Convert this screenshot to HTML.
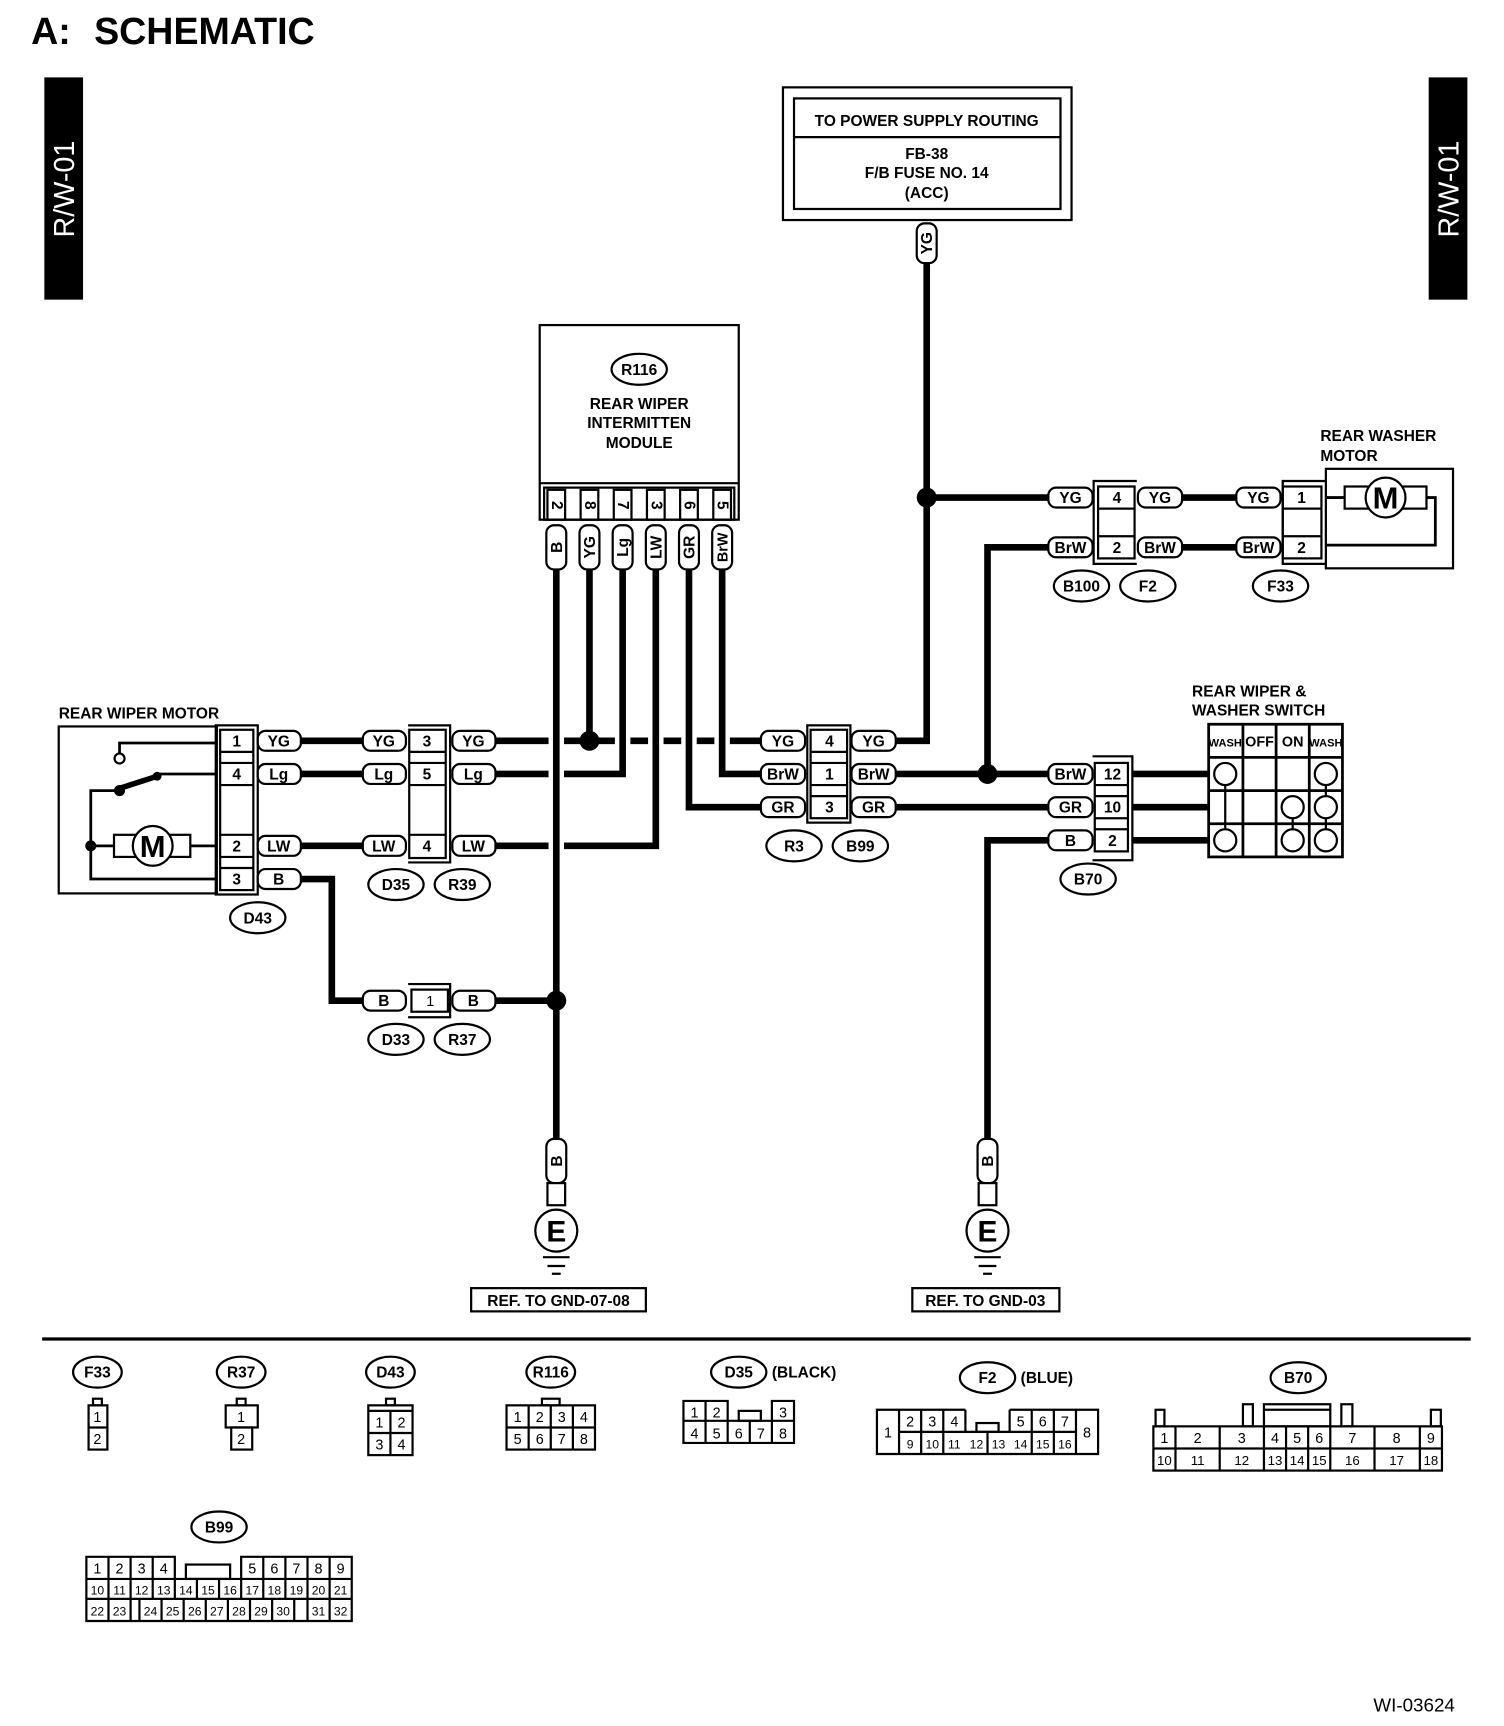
<!DOCTYPE html>
<html><head><meta charset="utf-8"><style>
html,body{margin:0;padding:0;background:#fff}
svg{display:block}
.p{fill:#fff;stroke:#000;stroke-width:2}
.b{fill:none;stroke:#000;stroke-width:2}
.w{fill:none;stroke:#000;stroke-width:6}
.tn{fill:none;stroke:#000;stroke-width:2.5}
text{font-family:"Liberation Sans",sans-serif;font-weight:bold;font-size:14px;text-anchor:middle}
.s{font-size:13px;font-weight:normal}
.l{text-anchor:start}
</style></head><body>
<svg width="1504" height="1726" viewBox="0 0 1360 1561" xmlns="http://www.w3.org/2000/svg">
<text x="28" y="40" class="l" style="font-size:34px">A:</text>
<text x="85" y="40" class="l" style="font-size:34px">SCHEMATIC</text>
<rect x="40" y="70" width="35" height="201" fill="#000"/>
<text transform="translate(67,171) rotate(-90)" style="font-size:26px;fill:#fff;font-weight:normal">R/W-01</text>
<rect x="1292" y="70" width="35" height="201" fill="#000"/>
<text transform="translate(1319,171) rotate(-90)" style="font-size:26px;fill:#fff;font-weight:normal">R/W-01</text>

<!-- power box -->
<rect x="708" y="79" width="261" height="120" class="b"/>
<rect x="718" y="89" width="241" height="100" class="b"/>
<line x1="718" y1="124" x2="959" y2="124" class="b"/>
<text x="838" y="114">TO POWER SUPPLY ROUTING</text>
<text x="838" y="144">FB-38</text>
<text x="838" y="161">F/B FUSE NO. 14</text>
<text x="838" y="179">(ACC)</text>
<rect x="829" y="202" width="18" height="36" rx="7" class="p"/>
<text transform="translate(843,220) rotate(-90)">YG</text>
<polyline points="838,238 838,670 810,670" class="w"/>
<circle cx="838" cy="450" r="9"/>
<line x1="838" y1="450" x2="948" y2="450" class="w"/>

<!-- R116 -->
<rect x="488" y="294" width="180" height="176" class="b"/>
<line x1="488" y1="437" x2="668" y2="437" class="b"/>
<ellipse cx="578" cy="334" rx="25" ry="14" class="p"/>
<text x="578" y="339">R116</text>
<text x="578" y="370">REAR WIPER</text>
<text x="578" y="387">INTERMITTEN</text>
<text x="578" y="405">MODULE</text>
<rect x="492" y="441" width="172" height="29" class="b"/>
<g>
<rect x="495" y="443" width="16" height="27" class="b"/><text transform="translate(499,457) rotate(90)">2</text>
<rect x="525" y="443" width="16" height="27" class="b"/><text transform="translate(529,457) rotate(90)">8</text>
<rect x="555" y="443" width="16" height="27" class="b"/><text transform="translate(559,457) rotate(90)">7</text>
<rect x="585" y="443" width="16" height="27" class="b"/><text transform="translate(589,457) rotate(90)">3</text>
<rect x="615" y="443" width="16" height="27" class="b"/><text transform="translate(619,457) rotate(90)">6</text>
<rect x="645" y="443" width="16" height="27" class="b"/><text transform="translate(649,457) rotate(90)">5</text>
</g>
<g>
<rect x="494" y="475" width="18" height="40" rx="7" class="p"/><text transform="translate(508,495) rotate(-90)">B</text>
<rect x="524" y="475" width="18" height="40" rx="7" class="p"/><text transform="translate(538,495) rotate(-90)">YG</text>
<rect x="554" y="475" width="18" height="40" rx="7" class="p"/><text transform="translate(568,495) rotate(-90)">Lg</text>
<rect x="584" y="475" width="18" height="40" rx="7" class="p"/><text transform="translate(598,495) rotate(-90)">LW</text>
<rect x="614" y="475" width="18" height="40" rx="7" class="p"/><text transform="translate(628,495) rotate(-90)">GR</text>
<rect x="644" y="475" width="18" height="40" rx="7" class="p"/><text transform="translate(658,495) rotate(-90)" style="font-size:13px">BrW</text>
</g>
<line x1="503" y1="515" x2="503" y2="1030" class="w"/>
<line x1="533" y1="515" x2="533" y2="670" class="w"/>
<polyline points="563,515 563,700 510,700" class="w"/>
<polyline points="593,515 593,765 510,765" class="w"/>
<polyline points="623,515 623,730 688,730" class="w"/>
<polyline points="653,515 653,700 688,700" class="w"/>
<circle cx="533" cy="670" r="9"/>
<line x1="448" y1="670" x2="496" y2="670" class="w"/>
<line x1="510" y1="670" x2="556" y2="670" class="w"/>
<line x1="570" y1="670" x2="586" y2="670" class="w"/>
<line x1="600" y1="670" x2="616" y2="670" class="w"/>
<line x1="630" y1="670" x2="646" y2="670" class="w"/>
<line x1="660" y1="670" x2="688" y2="670" class="w"/>
<line x1="448" y1="700" x2="496" y2="700" class="w"/>
<line x1="448" y1="765" x2="496" y2="765" class="w"/>

<!-- rear wiper motor -->
<text x="53" y="650" class="l">REAR WIPER MOTOR</text>
<rect x="53" y="657" width="143" height="151" class="b"/>
<rect x="195" y="656" width="38" height="153" class="b"/>
<rect x="199" y="660" width="30" height="145" class="b"/>
<line x1="199" y1="680" x2="229" y2="680" class="b"/>
<line x1="199" y1="690" x2="229" y2="690" class="b"/>
<line x1="199" y1="710" x2="229" y2="710" class="b"/>
<line x1="199" y1="755" x2="229" y2="755" class="b"/>
<line x1="199" y1="775" x2="229" y2="775" class="b"/>
<line x1="199" y1="785" x2="229" y2="785" class="b"/>
<text x="214" y="675">1</text><text x="214" y="705">4</text><text x="214" y="770">2</text><text x="214" y="800">3</text>
<polyline points="108,682 108,672 196,672" class="tn"/>
<circle cx="108" cy="686" r="4.5" class="p"/>
<line x1="108" y1="713" x2="142" y2="702" stroke="#000" stroke-width="5"/>
<circle cx="142" cy="702" r="4"/>
<line x1="142" y1="700" x2="196" y2="700" class="tn"/>
<circle cx="108" cy="715" r="5"/>
<polyline points="108,715 82,715 82,795 196,795" class="tn"/>
<circle cx="82" cy="765" r="5"/>
<line x1="82" y1="765" x2="103" y2="765" class="tn"/>
<rect x="103" y="755" width="69" height="20" class="p"/>
<circle cx="138" cy="765" r="18" class="p"/>
<text x="138" y="775" style="font-size:28px">M</text>
<line x1="172" y1="765" x2="196" y2="765" class="tn"/>
<g>
<rect x="233" y="661" width="39" height="18" rx="7" class="p"/><text x="252" y="675">YG</text>
<rect x="233" y="691" width="39" height="18" rx="7" class="p"/><text x="252" y="705">Lg</text>
<rect x="233" y="756" width="39" height="18" rx="7" class="p"/><text x="252" y="770">LW</text>
<rect x="233" y="786" width="39" height="18" rx="7" class="p"/><text x="252" y="800">B</text>
</g>
<line x1="272" y1="670" x2="328" y2="670" class="w"/>
<line x1="272" y1="700" x2="328" y2="700" class="w"/>
<line x1="272" y1="765" x2="328" y2="765" class="w"/>
<polyline points="272,795 300,795 300,905 328,905" class="w"/>
<ellipse cx="233" cy="830" rx="25" ry="14" class="p"/><text x="233" y="835">D43</text>
<g>
<rect x="328" y="661" width="39" height="18" rx="7" class="p"/><text x="347" y="675">YG</text>
<rect x="328" y="691" width="39" height="18" rx="7" class="p"/><text x="347" y="705">Lg</text>
<rect x="328" y="756" width="39" height="18" rx="7" class="p"/><text x="347" y="770">LW</text>
<rect x="409" y="661" width="39" height="18" rx="7" class="p"/><text x="428" y="675">YG</text>
<rect x="409" y="691" width="39" height="18" rx="7" class="p"/><text x="428" y="705">Lg</text>
<rect x="409" y="756" width="39" height="18" rx="7" class="p"/><text x="428" y="770">LW</text>
</g>
<polyline points="369,656 407,656 407,780 369,780" class="b"/>
<rect x="370" y="660" width="33" height="116" class="b"/>
<line x1="370" y1="680" x2="403" y2="680" class="b"/>
<line x1="370" y1="690" x2="403" y2="690" class="b"/>
<line x1="370" y1="710" x2="403" y2="710" class="b"/>
<line x1="370" y1="755" x2="403" y2="755" class="b"/>
<text x="386" y="675">3</text><text x="386" y="705">5</text><text x="386" y="770">4</text>
<ellipse cx="358" cy="800" rx="25" ry="14" class="p"/><text x="358" y="805">D35</text>
<ellipse cx="418" cy="800" rx="25" ry="14" class="p"/><text x="418" y="805">R39</text>
<rect x="328" y="896" width="39" height="18" rx="7" class="p"/><text x="347" y="910">B</text>
<rect x="409" y="896" width="39" height="18" rx="7" class="p"/><text x="428" y="910">B</text>
<polyline points="369,890 407,890 407,920 369,920" class="b"/>
<rect x="372" y="895" width="33" height="20" class="b"/>
<text x="389" y="910" class="s">1</text>
<line x1="448" y1="905" x2="503" y2="905" class="w"/>
<circle cx="503" cy="905" r="9"/>
<ellipse cx="358" cy="940" rx="25" ry="14" class="p"/><text x="358" y="945">D33</text>
<ellipse cx="418" cy="940" rx="25" ry="14" class="p"/><text x="418" y="945">R37</text>

<!-- R3/B99 -->
<g>
<rect x="688" y="661" width="40" height="18" rx="7" class="p"/><text x="708" y="675">YG</text>
<rect x="688" y="691" width="40" height="18" rx="7" class="p"/><text x="708" y="705">BrW</text>
<rect x="688" y="721" width="40" height="18" rx="7" class="p"/><text x="708" y="735">GR</text>
<rect x="770" y="661" width="40" height="18" rx="7" class="p"/><text x="790" y="675">YG</text>
<rect x="770" y="691" width="40" height="18" rx="7" class="p"/><text x="790" y="705">BrW</text>
<rect x="770" y="721" width="40" height="18" rx="7" class="p"/><text x="790" y="735">GR</text>
</g>
<rect x="730" y="656" width="39" height="88" class="b"/>
<rect x="733" y="660" width="33" height="80" class="b"/>
<line x1="733" y1="680" x2="766" y2="680" class="b"/>
<line x1="733" y1="690" x2="766" y2="690" class="b"/>
<line x1="733" y1="710" x2="766" y2="710" class="b"/>
<line x1="733" y1="720" x2="766" y2="720" class="b"/>
<text x="750" y="675">4</text><text x="750" y="705">1</text><text x="750" y="735">3</text>
<ellipse cx="718" cy="765" rx="25" ry="14" class="p"/><text x="718" y="770">R3</text>
<ellipse cx="778" cy="765" rx="25" ry="14" class="p"/><text x="778" y="770">B99</text>
<line x1="810" y1="700" x2="948" y2="700" class="w"/>
<line x1="810" y1="730" x2="948" y2="730" class="w"/>
<polyline points="893,700 893,495 948,495" class="w"/>
<circle cx="893" cy="700" r="9"/>
<polyline points="948,760 893,760 893,1030" class="w"/>

<!-- B100/F2 -->
<g>
<rect x="948" y="441" width="40" height="18" rx="7" class="p"/><text x="968" y="455">YG</text>
<rect x="948" y="486" width="40" height="18" rx="7" class="p"/><text x="968" y="500">BrW</text>
<rect x="1029" y="441" width="40" height="18" rx="7" class="p"/><text x="1049" y="455">YG</text>
<rect x="1029" y="486" width="40" height="18" rx="7" class="p"/><text x="1049" y="500">BrW</text>
</g>
<polyline points="1028,435 989,435 989,510 1028,510" class="b"/>
<rect x="993" y="440" width="33" height="65" class="b"/>
<line x1="993" y1="460" x2="1026" y2="460" class="b"/>
<line x1="993" y1="485" x2="1026" y2="485" class="b"/>
<text x="1010" y="455">4</text><text x="1010" y="500">2</text>
<ellipse cx="978" cy="530" rx="25" ry="14" class="p"/><text x="978" y="535">B100</text>
<ellipse cx="1038" cy="530" rx="25" ry="14" class="p"/><text x="1038" y="535">F2</text>
<line x1="1069" y1="450" x2="1118" y2="450" class="w"/>
<line x1="1069" y1="495" x2="1118" y2="495" class="w"/>
<rect x="1118" y="441" width="40" height="18" rx="7" class="p"/><text x="1138" y="455">YG</text>
<rect x="1118" y="486" width="40" height="18" rx="7" class="p"/><text x="1138" y="500">BrW</text>
<polyline points="1199,435 1160,435 1160,510 1199,510" class="b"/>
<rect x="1160" y="440" width="35" height="65" class="b"/>
<line x1="1160" y1="460" x2="1195" y2="460" class="b"/>
<line x1="1160" y1="485" x2="1195" y2="485" class="b"/>
<text x="1177" y="455">1</text><text x="1177" y="500">2</text>
<ellipse cx="1158" cy="530" rx="25" ry="14" class="p"/><text x="1158" y="535">F33</text>
<text x="1194" y="399" class="l">REAR  WASHER</text>
<text x="1194" y="417" class="l">MOTOR</text>
<rect x="1199" y="424" width="115" height="90" class="b"/>
<line x1="1199" y1="450" x2="1216" y2="450" class="tn"/>
<rect x="1216" y="440" width="74" height="20" class="p"/>
<circle cx="1253" cy="450" r="18" class="p"/>
<text x="1253" y="460" style="font-size:28px">M</text>
<polyline points="1290,450 1298,450 1298,493 1199,493" class="tn"/>

<!-- B70 / switch -->
<g>
<rect x="948" y="691" width="40" height="18" rx="7" class="p"/><text x="968" y="705">BrW</text>
<rect x="948" y="721" width="40" height="18" rx="7" class="p"/><text x="968" y="735">GR</text>
<rect x="948" y="751" width="40" height="18" rx="7" class="p"/><text x="968" y="765">B</text>
</g>
<polyline points="988,684 1024,684 1024,778 988,778" class="b"/>
<rect x="990" y="690" width="30" height="80" class="b"/>
<line x1="990" y1="710" x2="1020" y2="710" class="b"/>
<line x1="990" y1="720" x2="1020" y2="720" class="b"/>
<line x1="990" y1="740" x2="1020" y2="740" class="b"/>
<line x1="990" y1="750" x2="1020" y2="750" class="b"/>
<text x="1006" y="705">12</text><text x="1006" y="735">10</text><text x="1006" y="765">2</text>
<ellipse cx="984" cy="795" rx="25" ry="14" class="p"/><text x="984" y="800">B70</text>
<line x1="1024" y1="700" x2="1093" y2="700" class="w"/>
<line x1="1024" y1="730" x2="1093" y2="730" class="w"/>
<line x1="1024" y1="760" x2="1093" y2="760" class="w"/>
<text x="1078" y="630" class="l">REAR WIPER &amp;</text>
<text x="1078" y="647" class="l">WASHER SWITCH</text>
<rect x="1093" y="655" width="121" height="120" fill="#fff" stroke="#000" stroke-width="2.5"/>
<g stroke="#000" stroke-width="2.5">
<line x1="1124" y1="655" x2="1124" y2="775"/>
<line x1="1154" y1="655" x2="1154" y2="775"/>
<line x1="1184" y1="655" x2="1184" y2="775"/>
<line x1="1093" y1="685" x2="1214" y2="685"/>
<line x1="1093" y1="715" x2="1214" y2="715"/>
<line x1="1093" y1="745" x2="1214" y2="745"/>
</g>
<text x="1108" y="675" style="font-size:10px">WASH</text>
<text x="1139" y="675" style="font-size:13px">OFF</text>
<text x="1169" y="675" style="font-size:13px">ON</text>
<text x="1199" y="675" style="font-size:10px">WASH</text>
<line x1="1108" y1="700" x2="1108" y2="760" class="b"/>
<line x1="1169" y1="730" x2="1169" y2="760" class="b"/>
<line x1="1199" y1="700" x2="1199" y2="760" class="b"/>
<circle cx="1108" cy="700" r="10" class="p"/>
<circle cx="1108" cy="760" r="10" class="p"/>
<circle cx="1169" cy="730" r="10" class="p"/>
<circle cx="1169" cy="760" r="10" class="p"/>
<circle cx="1199" cy="700" r="10" class="p"/>
<circle cx="1199" cy="730" r="10" class="p"/>
<circle cx="1199" cy="760" r="10" class="p"/>

<!-- grounds -->
<g>
<rect x="494" y="1030" width="18" height="40" rx="7" class="p"/><text transform="translate(508,1050) rotate(-90)">B</text>
<rect x="495" y="1070" width="16" height="20" class="p"/>
<circle cx="503" cy="1113" r="19" class="p"/><text x="503" y="1123" style="font-size:27px">E</text>
<line x1="491" y1="1137" x2="515" y2="1137" class="b"/>
<line x1="495" y1="1145" x2="511" y2="1145" class="b"/>
<line x1="499" y1="1152" x2="507" y2="1152" class="b"/>
<rect x="426" y="1165" width="158" height="21" class="p"/>
<text x="505" y="1181">REF. TO GND-07-08</text>
</g>
<g>
<rect x="884" y="1030" width="18" height="40" rx="7" class="p"/><text transform="translate(898,1050) rotate(-90)">B</text>
<rect x="885" y="1070" width="16" height="20" class="p"/>
<circle cx="893" cy="1113" r="19" class="p"/><text x="893" y="1123" style="font-size:27px">E</text>
<line x1="881" y1="1137" x2="905" y2="1137" class="b"/>
<line x1="885" y1="1145" x2="901" y2="1145" class="b"/>
<line x1="889" y1="1152" x2="897" y2="1152" class="b"/>
<rect x="825" y="1165" width="133" height="21" class="p"/>
<text x="891" y="1181">REF. TO GND-03</text>
</g>

<line x1="38" y1="1211" x2="1330" y2="1211" stroke="#000" stroke-width="3"/>

<!-- legend -->
<ellipse cx="88" cy="1241" rx="22" ry="14" class="p"/><text x="88" y="1246">F33</text>
<rect x="84" y="1265" width="8" height="6" class="b"/>
<rect x="80" y="1271" width="17" height="40" class="b"/><line x1="80" y1="1291" x2="97" y2="1291" class="b"/>
<text x="88" y="1286" class="s">1</text><text x="88" y="1306" class="s">2</text>

<ellipse cx="218" cy="1241" rx="22" ry="14" class="p"/><text x="218" y="1246">R37</text>
<rect x="214" y="1265" width="8" height="6" class="b"/>
<rect x="204" y="1271" width="29" height="20" class="b"/><rect x="209" y="1291" width="19" height="20" class="b"/>
<text x="218" y="1286" class="s">1</text><text x="218" y="1306" class="s">2</text>

<ellipse cx="353" cy="1241" rx="22" ry="14" class="p"/><text x="353" y="1246">D43</text>
<rect x="349" y="1265" width="8" height="6" class="b"/>
<rect x="333" y="1271" width="40" height="45" class="b"/>
<line x1="333" y1="1276" x2="373" y2="1276" class="b"/><line x1="333" y1="1296" x2="373" y2="1296" class="b"/><line x1="353" y1="1276" x2="353" y2="1316" class="b"/>
<text x="343" y="1291" class="s">1</text><text x="363" y="1291" class="s">2</text><text x="343" y="1311" class="s">3</text><text x="363" y="1311" class="s">4</text>

<ellipse cx="498" cy="1241" rx="22" ry="14" class="p"/><text x="498" y="1246">R116</text>
<rect x="490" y="1265" width="16" height="6" class="b"/>
<rect x="458" y="1271" width="80" height="40" class="b"/>
<line x1="458" y1="1291" x2="538" y2="1291" class="b"/>
<line x1="478" y1="1271" x2="478" y2="1311" class="b"/><line x1="498" y1="1271" x2="498" y2="1311" class="b"/><line x1="518" y1="1271" x2="518" y2="1311" class="b"/>
<text x="468" y="1286" class="s">1</text><text x="488" y="1286" class="s">2</text><text x="508" y="1286" class="s">3</text><text x="528" y="1286" class="s">4</text>
<text x="468" y="1306" class="s">5</text><text x="488" y="1306" class="s">6</text><text x="508" y="1306" class="s">7</text><text x="528" y="1306" class="s">8</text>

<ellipse cx="668" cy="1241" rx="25" ry="14" class="p"/><text x="668" y="1246">D35</text>
<text x="698" y="1246" class="l">(BLACK)</text>
<path d="M658 1285 V1267 H618 V1305 H718 V1267 H698 V1285" class="b"/>
<line x1="618" y1="1285" x2="718" y2="1285" class="b"/>
<rect x="668" y="1276" width="20" height="9" class="b"/>
<line x1="638" y1="1267" x2="638" y2="1305" class="b"/><line x1="658" y1="1285" x2="658" y2="1305" class="b"/><line x1="678" y1="1285" x2="678" y2="1305" class="b"/><line x1="698" y1="1285" x2="698" y2="1305" class="b"/>
<text x="628" y="1282" class="s">1</text><text x="648" y="1282" class="s">2</text><text x="708" y="1282" class="s">3</text>
<text x="628" y="1301" class="s">4</text><text x="648" y="1301" class="s">5</text><text x="668" y="1301" class="s">6</text><text x="688" y="1301" class="s">7</text><text x="708" y="1301" class="s">8</text>

<ellipse cx="893" cy="1246" rx="25" ry="14" class="p"/><text x="893" y="1251">F2</text>
<text x="923" y="1251" class="l">(BLUE)</text>
<path d="M873 1275 H793 V1315 H993 V1275 H913" class="b"/>
<line x1="813" y1="1275" x2="813" y2="1315" class="b"/><line x1="973" y1="1275" x2="973" y2="1315" class="b"/>
<line x1="813" y1="1295" x2="973" y2="1295" class="b"/>
<line x1="873" y1="1275" x2="873" y2="1295" class="b"/><line x1="913" y1="1275" x2="913" y2="1295" class="b"/>
<rect x="883" y="1287" width="20" height="8" class="b"/>
<g stroke="#000" stroke-width="2"><line x1="833" y1="1275" x2="833" y2="1315"/><line x1="853" y1="1275" x2="853" y2="1315"/><line x1="893" y1="1295" x2="893" y2="1315"/><line x1="933" y1="1275" x2="933" y2="1315"/><line x1="953" y1="1275" x2="953" y2="1315"/></g>
<text x="803" y="1300" class="s">1</text><text x="983" y="1300" class="s">8</text>
<text x="823" y="1290" class="s">2</text><text x="843" y="1290" class="s">3</text><text x="863" y="1290" class="s">4</text><text x="923" y="1290" class="s">5</text><text x="943" y="1290" class="s">6</text><text x="963" y="1290" class="s">7</text>
<text x="823" y="1310" class="s" style="font-size:11px">9</text><text x="843" y="1310" class="s" style="font-size:11px">10</text><text x="863" y="1310" class="s" style="font-size:11px">11</text><text x="883" y="1310" class="s" style="font-size:11px">12</text><text x="903" y="1310" class="s" style="font-size:11px">13</text><text x="923" y="1310" class="s" style="font-size:11px">14</text><text x="943" y="1310" class="s" style="font-size:11px">15</text><text x="963" y="1310" class="s" style="font-size:11px">16</text>

<ellipse cx="1174" cy="1246" rx="25" ry="14" class="p"/><text x="1174" y="1251">B70</text>
<rect x="1045" y="1275" width="8" height="15" class="b"/>
<rect x="1124" y="1270" width="9" height="20" class="b"/>
<rect x="1143" y="1270" width="60" height="20" class="b"/><line x1="1143" y1="1275" x2="1203" y2="1275" class="b"/>
<rect x="1213" y="1270" width="10" height="20" class="b"/>
<rect x="1294" y="1275" width="9" height="15" class="b"/>
<rect x="1043" y="1290" width="261" height="40" class="b"/>
<line x1="1043" y1="1310" x2="1304" y2="1310" class="b"/>
<g stroke="#000" stroke-width="2"><line x1="1063" y1="1290" x2="1063" y2="1330"/><line x1="1103" y1="1290" x2="1103" y2="1330"/><line x1="1143" y1="1290" x2="1143" y2="1330"/><line x1="1163" y1="1290" x2="1163" y2="1330"/><line x1="1183" y1="1290" x2="1183" y2="1330"/><line x1="1203" y1="1290" x2="1203" y2="1330"/><line x1="1243" y1="1290" x2="1243" y2="1330"/><line x1="1284" y1="1290" x2="1284" y2="1330"/></g>
<text x="1053" y="1305" class="s">1</text><text x="1083" y="1305" class="s">2</text><text x="1123" y="1305" class="s">3</text><text x="1153" y="1305" class="s">4</text><text x="1173" y="1305" class="s">5</text><text x="1193" y="1305" class="s">6</text><text x="1223" y="1305" class="s">7</text><text x="1263" y="1305" class="s">8</text><text x="1294" y="1305" class="s">9</text>
<text x="1053" y="1325" class="s" style="font-size:12px">10</text><text x="1083" y="1325" class="s" style="font-size:12px">11</text><text x="1123" y="1325" class="s" style="font-size:12px">12</text><text x="1153" y="1325" class="s" style="font-size:12px">13</text><text x="1173" y="1325" class="s" style="font-size:12px">14</text><text x="1193" y="1325" class="s" style="font-size:12px">15</text><text x="1223" y="1325" class="s" style="font-size:12px">16</text><text x="1263" y="1325" class="s" style="font-size:12px">17</text><text x="1294" y="1325" class="s" style="font-size:12px">18</text>

<ellipse cx="198" cy="1381" rx="25" ry="14" class="p"/><text x="198" y="1386">B99</text>
<path d="M158 1428 V1408 H78 V1466 H318 V1408 H218 V1428" class="b"/>
<line x1="78" y1="1428" x2="318" y2="1428" class="b"/><line x1="78" y1="1446" x2="318" y2="1446" class="b"/>
<rect x="168" y="1415" width="40" height="13" class="b"/>
<g stroke="#000" stroke-width="2">
<line x1="98" y1="1408" x2="98" y2="1446"/><line x1="118" y1="1408" x2="118" y2="1446"/><line x1="138" y1="1408" x2="138" y2="1446"/><line x1="158" y1="1428" x2="158" y2="1446"/><line x1="178" y1="1428" x2="178" y2="1446"/><line x1="198" y1="1428" x2="198" y2="1446"/><line x1="238" y1="1408" x2="238" y2="1446"/><line x1="258" y1="1408" x2="258" y2="1446"/><line x1="278" y1="1408" x2="278" y2="1446"/><line x1="298" y1="1408" x2="298" y2="1446"/><line x1="218" y1="1428" x2="218" y2="1446"/>
<line x1="98" y1="1446" x2="98" y2="1466"/><line x1="118" y1="1446" x2="118" y2="1466"/><line x1="126" y1="1446" x2="126" y2="1466"/><line x1="146" y1="1446" x2="146" y2="1466"/><line x1="166" y1="1446" x2="166" y2="1466"/><line x1="186" y1="1446" x2="186" y2="1466"/><line x1="206" y1="1446" x2="206" y2="1466"/><line x1="226" y1="1446" x2="226" y2="1466"/><line x1="246" y1="1446" x2="246" y2="1466"/><line x1="266" y1="1446" x2="266" y2="1466"/><line x1="278" y1="1446" x2="278" y2="1466"/><line x1="298" y1="1446" x2="298" y2="1466"/>
</g>
<text x="88" y="1423" class="s">1</text><text x="108" y="1423" class="s">2</text><text x="128" y="1423" class="s">3</text><text x="148" y="1423" class="s">4</text><text x="228" y="1423" class="s">5</text><text x="248" y="1423" class="s">6</text><text x="268" y="1423" class="s">7</text><text x="288" y="1423" class="s">8</text><text x="308" y="1423" class="s">9</text>
<text x="88" y="1442" class="s" style="font-size:11px">10</text><text x="108" y="1442" class="s" style="font-size:11px">11</text><text x="128" y="1442" class="s" style="font-size:11px">12</text><text x="148" y="1442" class="s" style="font-size:11px">13</text><text x="168" y="1442" class="s" style="font-size:11px">14</text><text x="188" y="1442" class="s" style="font-size:11px">15</text><text x="208" y="1442" class="s" style="font-size:11px">16</text><text x="228" y="1442" class="s" style="font-size:11px">17</text><text x="248" y="1442" class="s" style="font-size:11px">18</text><text x="268" y="1442" class="s" style="font-size:11px">19</text><text x="288" y="1442" class="s" style="font-size:11px">20</text><text x="308" y="1442" class="s" style="font-size:11px">21</text>
<text x="88" y="1461" class="s" style="font-size:11px">22</text><text x="108" y="1461" class="s" style="font-size:11px">23</text><text x="136" y="1461" class="s" style="font-size:11px">24</text><text x="156" y="1461" class="s" style="font-size:11px">25</text><text x="176" y="1461" class="s" style="font-size:11px">26</text><text x="196" y="1461" class="s" style="font-size:11px">27</text><text x="216" y="1461" class="s" style="font-size:11px">28</text><text x="236" y="1461" class="s" style="font-size:11px">29</text><text x="256" y="1461" class="s" style="font-size:11px">30</text><text x="288" y="1461" class="s" style="font-size:11px">31</text><text x="308" y="1461" class="s" style="font-size:11px">32</text>

<text x="1242" y="1548" class="l" style="font-size:17px;font-weight:normal">WI-03624</text>
</svg>
</body></html>
